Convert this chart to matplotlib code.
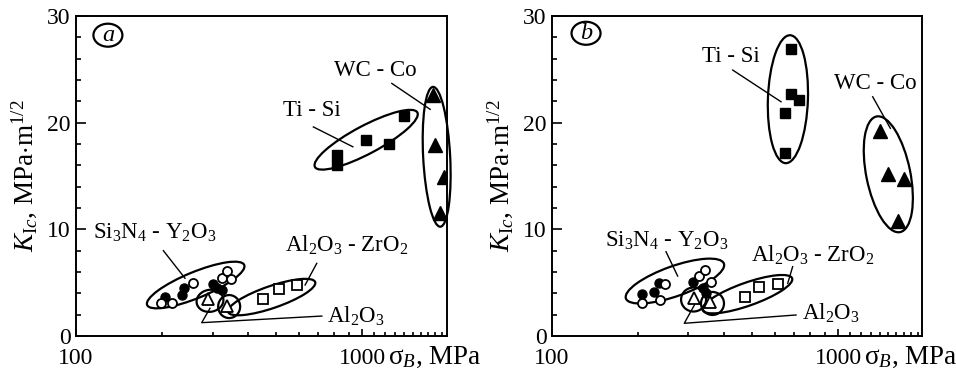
import matplotlib
matplotlib.use("Agg")
import matplotlib.pyplot as plt
import matplotlib.transforms as mtransforms
from matplotlib.patches import Ellipse
from matplotlib.ticker import FixedLocator, NullFormatter
import numpy as np

plt.rcParams['font.family'] = ['Liberation Serif', 'DejaVu Serif']
plt.rcParams['mathtext.fontset'] = 'custom'
plt.rcParams['mathtext.rm'] = 'Liberation Serif'
plt.rcParams['mathtext.it'] = 'Liberation Serif:italic'
plt.rcParams['mathtext.bf'] = 'Liberation Serif:bold'

DPI = 100
FS = 16.5      # annotations
FS_TICK = 17
FS_LAB = 19.5

# ---------------- data: panel a ----------------
a_tisi_x = [820, 820, 1030, 1246, 1403]
a_tisi_y = [17.0, 16.0, 18.4, 18.0, 20.6]
a_wc_x = [1775, 1800, 1935, 1874]
a_wc_y = [22.6, 17.9, 14.9, 11.5]
a_si_open_x = [198, 216, 256, 323, 338, 347]
a_si_open_y = [3.1, 3.1, 5.0, 5.4, 6.1, 5.3]
a_si_fill_x = [205, 234, 239, 300, 310, 323]
a_si_fill_y = [3.7, 3.8, 4.5, 4.9, 4.5, 4.3]
a_al_x = [290, 338]
a_al_y = [3.5, 2.8]
a_alzr_x = [450, 514, 591]
a_alzr_y = [3.5, 4.4, 4.8]

# ---------------- data: panel b ----------------
b_tisi_x = [685, 685, 729, 654, 654]
b_tisi_y = [26.9, 22.7, 22.1, 20.9, 17.2]
b_wc_x = [1403, 1499, 1706, 1617]
b_wc_y = [19.2, 15.2, 14.7, 10.8]
b_si_open_x = [207, 239, 249, 327, 342, 360]
b_si_open_y = [3.1, 3.4, 4.9, 5.6, 6.2, 5.1]
b_si_fill_x = [206, 228, 237, 310, 336, 345]
b_si_fill_y = [3.9, 4.1, 5.0, 5.1, 4.5, 4.0]
b_al_x = [314, 358]
b_al_y = [3.6, 3.2]
b_alzr_x = [474, 528, 615]
b_alzr_y = [3.7, 4.6, 4.9]

# labels
lbl_si = 'Si$_3$N$_4$ - Y$_2$O$_3$'
lbl_alzr = 'Al$_2$O$_3$ - ZrO$_2$'
lbl_al = 'Al$_2$O$_3$'
lbl_tisi = 'Ti - Si'
lbl_wc = 'WC - Co'
ylabel = '$K_{\\mathrm{I}c}$, MPa$\\cdot$m$^{1/2}$'
xlabel = '$\\mathrm{\\sigma}_B$, MPa'

# annotation specs: enclosures (center in data, size in px, angle)
a_ellipses = [
    (1033, 18.4, 116, 28, 28),
    (1822, 16.8, 140, 27, 93),
    (262, 4.78, 105, 26, 22.4),
    (483, 3.65, 92, 22, 19),
    (294, 3.3, 27, 22, 10),
    (343, 2.76, 22, 23, 0),
]
b_ellipses = [
    (668, 22.2, 128, 40, 88),
    (1499, 15.16, 118, 44, 101.5),
    (269, 5.15, 104, 30, 19.6),
    (482, 3.92, 95, 23, 19.5),
    (312.6, 3.42, 25, 24, 0),
    (364, 3.05, 23, 23, 0),
]
a_leaders = [
    ([202, 240.5], [8.0, 5.41]),
    ([694, 632], [6.81, 4.78]),
    ([675.5, 928], [19.6, 17.74]),
    ([1270, 1729], [23.68, 21.25]),
    ([294, 275, 723], [2.6, 1.25, 1.87]),
]
b_leaders = [
    ([428.4, 632], [24.93, 21.96]),
    ([1322, 1524], [22.43, 19.47]),
    ([250.4, 275], [7.9, 5.62]),
    ([694, 667], [6.5, 4.94]),
    ([314.6, 290, 713], [2.9, 1.19, 1.97]),
]
a_texts = [
    (189, 9.65, lbl_si), (886, 8.53, lbl_alzr), (669, 21.1, lbl_tisi),
    (1110, 24.9, lbl_wc), (953, 1.87, lbl_al),
]
b_texts = [
    (252.5, 8.9, lbl_si), (818, 7.6, lbl_alzr), (422.6, 26.24, lbl_tisi),
    (1347, 23.7, lbl_wc), (945, 2.16, lbl_al),
]

fig = plt.figure(figsize=(9.56, 3.70), dpi=DPI)
ax_a = fig.add_axes([76/956, 34/370, 371/956, 320/370])
ax_b = fig.add_axes([552/956, 34/370, 370/956, 320/370])


def add_ellipse(ax, xc, yc, w, h, ang, base):
    tr = fig.dpi_scale_trans + mtransforms.ScaledTranslation(xc, yc, base)
    e = Ellipse((0, 0), w / DPI, h / DPI, angle=ang, transform=tr,
                fill=False, lw=1.6, ec='black', clip_on=False)
    ax.add_patch(e)


def setup(ax, xmax, letter, lx, ly):
    ax.set_xscale('log')
    ax.set_xlim(100, xmax)
    ax.set_ylim(0, 30)
    ax.xaxis.set_major_locator(FixedLocator([100, 1000]))
    ax.xaxis.set_minor_locator(FixedLocator(
        [200, 300, 400, 500, 600, 700, 800, 900,
         1100, 1200, 1300, 1400, 1500, 1600, 1700, 1800, 1900]))
    ax.xaxis.set_minor_formatter(NullFormatter())
    ax.set_xticklabels(['100', '1000'])
    ax.set_yticks([0, 10, 20, 30])
    ax.set_yticks(np.arange(0, 31, 2), minor=True)
    ax.tick_params(axis='both', which='both', direction='in',
                   labelsize=FS_TICK, width=1.2)
    ax.tick_params(axis='y', which='major', length=7, pad=4)
    ax.tick_params(axis='y', which='minor', length=3.5)
    ax.tick_params(axis='x', which='major', length=5, pad=9)
    ax.tick_params(axis='x', which='minor', length=3)
    for s in ax.spines.values():
        s.set_linewidth(1.4)
    ax.text(lx, -0.088, xlabel, transform=ax.transAxes, ha='left',
            va='baseline', fontsize=FS_LAB)
    ax.text(-0.14, 0.5, ylabel, transform=ax.transAxes, rotation=90,
            ha='center', va='center', fontsize=FS_LAB)
    ax.text(ly[0], ly[1], letter, transform=ax.transAxes, ha='center',
            va='center', fontsize=FS + 1, fontstyle='italic')
    add_ellipse(ax, ly[0], ly[1], 29, 23, 0, ax.transAxes)


def draw(ax, tisi, wc, si_o, si_f, al, alzr, ells, leads, texts):
    ax.plot(tisi[0], tisi[1], 's', color='black', ms=7.5, ls='none')
    ax.plot(wc[0], wc[1], '^', color='black', ms=9.5, ls='none')
    ax.plot(si_f[0], si_f[1], 'o', color='black', ms=6.5, ls='none')
    ax.plot(si_o[0], si_o[1], 'o', mfc='white', mec='black', mew=1.3,
            ms=6.5, ls='none')
    ax.plot(alzr[0], alzr[1], 's', mfc='white', mec='black', mew=1.3,
            ms=7.5, ls='none')
    ax.plot(al[0], al[1], '^', mfc='white', mec='black', mew=1.3,
            ms=8, ls='none')
    for (xc, yc, w, h, ang) in ells:
        add_ellipse(ax, xc, yc, w, h, ang, ax.transData)
    for xs, ys in leads:
        ax.plot(xs, ys, '-', color='black', lw=1.0, clip_on=False)
    for x, y, t in texts:
        ax.text(x, y, t, ha='center', va='center', fontsize=FS)


setup(ax_a, 1980, 'a', 0.841, (0.086, 0.94))
setup(ax_b, 1966, 'b', 0.843, (0.092, 0.946))
draw(ax_a, (a_tisi_x, a_tisi_y), (a_wc_x, a_wc_y), (a_si_open_x, a_si_open_y),
     (a_si_fill_x, a_si_fill_y), (a_al_x, a_al_y), (a_alzr_x, a_alzr_y),
     a_ellipses, a_leaders, a_texts)
draw(ax_b, (b_tisi_x, b_tisi_y), (b_wc_x, b_wc_y), (b_si_open_x, b_si_open_y),
     (b_si_fill_x, b_si_fill_y), (b_al_x, b_al_y), (b_alzr_x, b_alzr_y),
     b_ellipses, b_leaders, b_texts)

fig.savefig('out.png', dpi=DPI)
